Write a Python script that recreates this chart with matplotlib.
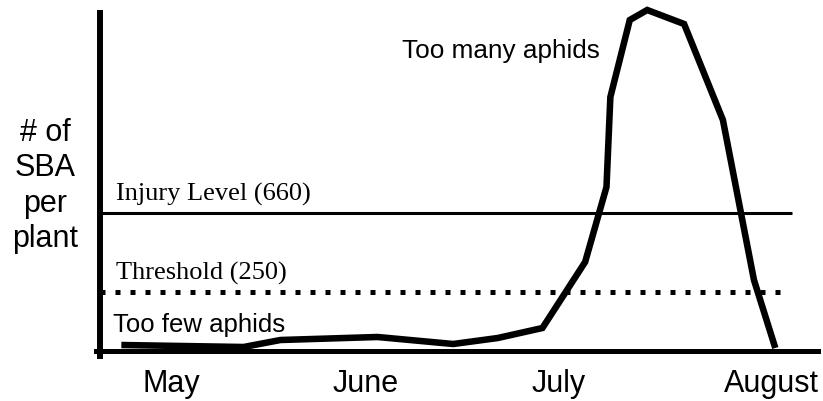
import matplotlib
matplotlib.use("Agg")
import matplotlib.pyplot as plt

# schematic season scale: 0 = May, 1 = June, ...
months = ["May", "June", "July", "August"]
month_pos = [0.0, 1.0, 1.995, 3.09]

# aphid count curve (relative level)
season = [-0.26, 0.37, 0.56, 1.06, 1.45, 1.68, 1.91, 2.13, 2.24, 2.26,
          2.36, 2.45, 2.64, 2.84, 3.0, 3.11]
aphids = [5.5, 3.5, 10.5, 13.5, 6.5, 12.5, 22.5, 88.5, 163.5, 253.5,
          330.5, 340.5, 326.5, 230.5, 70.5, 2.5]

injury_level = 137.8
threshold = 59.0

fig = plt.figure(figsize=(8.23, 4.01), dpi=100)
ax = fig.add_axes([100 / 823, 1 - 350.5 / 401, 718 / 823, 337.5 / 401])
ax.set_xlim(-0.37, 3.33)
ax.set_ylim(0, 337.5)

for s in ["top", "right"]:
    ax.spines[s].set_visible(False)
ax.spines["left"].set_linewidth(4.3)
ax.spines["left"].set_bounds(-5, 337.5)
ax.spines["bottom"].set_linewidth(3.6)
ax.spines["bottom"].set_bounds(-0.39, 3.33)

ax.plot([-0.37, 3.197], [injury_level, injury_level], color="black", lw=2.2,
        solid_capstyle="butt")
ax.plot([-0.37, 3.141], [threshold, threshold], color="black", lw=3.6,
        linestyle=(0, (1, 2)), dash_capstyle="butt")
ax.plot(season, aphids, color="black", lw=4.7, solid_joinstyle="miter",
        solid_capstyle="butt", clip_on=False, zorder=3)

sans = "Liberation Sans"
serif = "Liberation Serif"
ax.text(-0.287, 149.5, "Injury Level (660)", family=serif, fontsize=19, va="baseline")
ax.text(-0.287, 70.5, "Threshold (250)", family=serif, fontsize=19, va="baseline")
ax.text(-0.303, 18.5, "Too few aphids", family=sans, fontsize=18.5, va="baseline")
ax.text(1.187, 292.5, "Too many aphids", family=sans, fontsize=18.8, va="baseline")

ax.set_xticks(month_pos)
ax.set_xticklabels(months, family=sans, fontsize=22)
ax.tick_params(axis="x", length=0, pad=13)
ax.set_yticks([])

fig.text(45 / 823, 1 - 186 / 401, "# of\nSBA\nper\nplant", family=sans,
         fontsize=22, ha="center", va="center", linespacing=1.22)

fig.savefig("out.png", dpi=100)
